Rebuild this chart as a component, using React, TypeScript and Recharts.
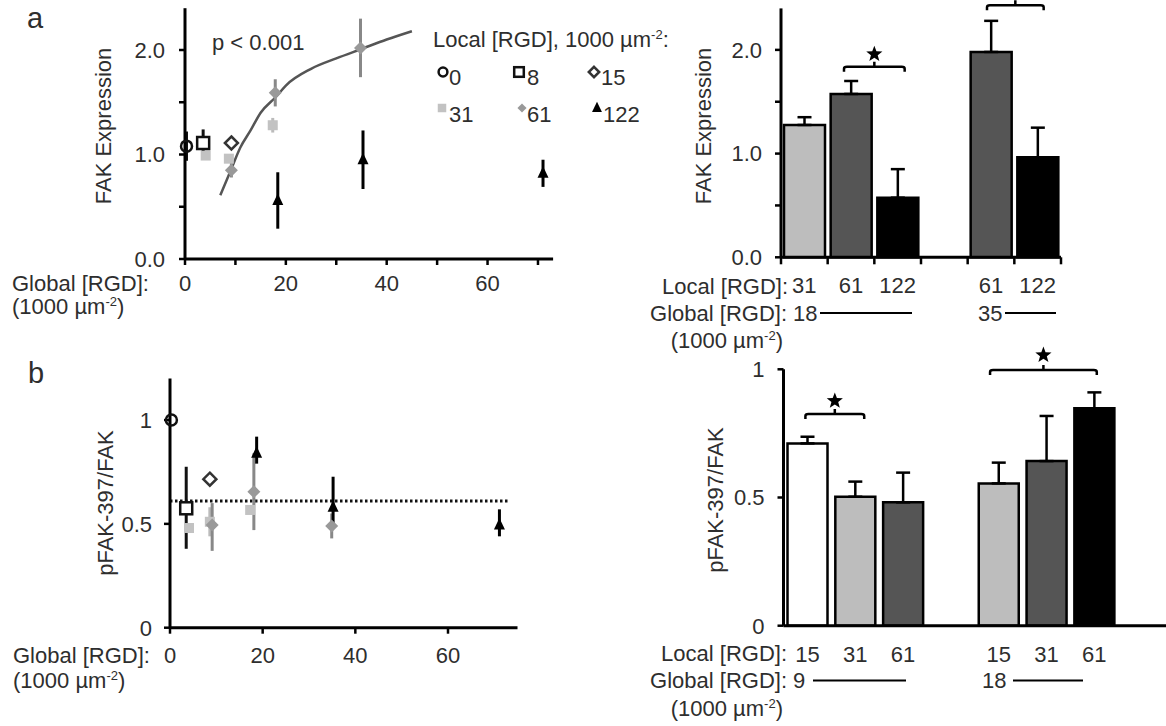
import React from 'react';
import {
  ComposedChart, BarChart, Bar, Cell, Scatter, Line, XAxis, YAxis, ErrorBar, ReferenceLine,
} from 'recharts';

const FONT = "'Liberation Sans', Arial, Helvetica, sans-serif";
const INK = '#2e2e2e';

// panel a (left): FAK expression vs global [RGD], one list per local [RGD]
const fakLocal0 = [{ g: 0.3, v: 1.08, e: 0.14 }];
const fakLocal8 = [{ g: 3.6, v: 1.11, e: 0.13 }];
const fakLocal15 = [{ g: 9.2, v: 1.11, e: 0.03 }];
const fakLocal31 = [{ g: 4.1, v: 0.99 }, { g: 8.7, v: 0.96 }, { g: 17.4, v: 1.28, e: 0.07 }];
const fakLocal61 = [{ g: 9.2, v: 0.85, e: 0.07 }, { g: 17.9, v: 1.59, e: 0.13 }, { g: 34.8, v: 2.02, e: 0.28 }];
const fakLocal122 = [{ g: 18.4, v: 0.56, e: 0.27 }, { g: 35.3, v: 0.95, e: 0.28 }, { g: 71, v: 0.82, e: 0.13 }];
const fakFit = [
  { g: 7, v: 0.61 }, { g: 9, v: 0.84 }, { g: 11, v: 1.07 }, { g: 13, v: 1.23 }, { g: 15, v: 1.4 },
  { g: 18, v: 1.55 }, { g: 20, v: 1.66 }, { g: 25, v: 1.82 }, { g: 30, v: 1.92 }, { g: 35, v: 2.01 },
  { g: 40, v: 2.1 }, { g: 45, v: 2.18 },
];

// panel b (left): pFAK-397/FAK vs global [RGD]
const pfakLocal0 = [{ g: 0.3, v: 1.0 }];
const pfakLocal8 = [{ g: 3.5, v: 0.575, e: [0.195, 0.2] }];
const pfakLocal15 = [{ g: 8.6, v: 0.715 }];
const pfakLocal31 = [{ g: 4.1, v: 0.48 }, { g: 8.6, v: 0.51, e: 0.07 }, { g: 17.3, v: 0.567 }];
const pfakLocal61 = [{ g: 9.1, v: 0.495, e: [0.125, 0.105] }, { g: 18.1, v: 0.655, e: 0.185 }, { g: 34.9, v: 0.49, e: 0.06 }];
const pfakLocal122 = [{ g: 18.7, v: 0.84, e: [0.05, 0.08] }, { g: 35.2, v: 0.58, e: [0.1, 0.147] }, { g: 71.1, v: 0.495, e: [0.055, 0.075] }];
const pfakMean = [{ g: 0, v: 0.61 }, { g: 73, v: 0.61 }];

// panel a (right): bars
const fakBarLocal = ['31', '61', '122', '', '61', '122'];
const fakBarMean = [1.276, 1.575, 0.575, null, 1.98, 0.965];
const fakBarSem = [0.075, 0.125, 0.275, null, 0.3, 0.285];
const fakBarFill = ['#bdbdbd', '#555555', '#000000', 'none', '#555555', '#000000'];
const fakBrackets = [{ from: 'c1', to: 'c2', y: 1.838 }, { from: 'c4', to: 'c5', y: 2.43 }];

// panel b (right): bars
const pfakBarLocal = ['15', '31', '61', '', '15', '31', '61', ''];
const pfakBarMean = [0.711, 0.503, 0.481, null, 0.555, 0.642, 0.848, null];
const pfakBarSem = [0.026, 0.059, 0.116, null, 0.081, 0.176, 0.062, null];
const pfakBarFill = ['#ffffff', '#bdbdbd', '#555555', 'none', '#bdbdbd', '#555555', '#000000', 'none'];
const pfakBrackets = [{ from: 'c0', to: 'c1', y: 0.826 }, { from: 'c4', to: 'c6', y: 0.997 }];

const toBars = (local: string[], mean: (number | null)[], sem: (number | null)[]) =>
  local.map((l, i) => ({ id: `c${i}`, local: l, mean: mean[i], err: sem[i] == null ? null : [0, sem[i]] }));

const fakBarData = toBars(fakBarLocal, fakBarMean, fakBarSem);
const pfakBarData = toBars(pfakBarLocal, pfakBarMean, pfakBarSem);

const axisLine = { stroke: '#000', strokeWidth: 3 };
const tickLine = { stroke: '#000', strokeWidth: 2.5 };
const tickStyle = { fill: INK, fontSize: 22, fontFamily: FONT };

// markers
const HollowCircle = ({ cx, cy, s = 1 }: any) => (
  <circle cx={cx} cy={cy} r={5.5 * s} fill="none" stroke="#111" strokeWidth={2.5} />
);
const HollowSquare = ({ cx, cy, s = 1 }: any) => (
  <rect x={cx - 6 * s} y={cy - 6 * s} width={12 * s} height={12 * s} fill="#fff" stroke="#111" strokeWidth={2.5} />
);
const HollowDiamond = ({ cx, cy, s = 1 }: any) => {
  const r = 6.5 * s;
  return <polygon points={`${cx},${cy - r} ${cx + r},${cy} ${cx},${cy + r} ${cx - r},${cy}`} fill="#fff" stroke="#333" strokeWidth={2.5} />;
};
const GraySquare = ({ cx, cy, s = 1 }: any) => (
  <rect x={cx - 5 * s} y={cy - 5 * s} width={10 * s} height={10 * s} fill="#c2c2c2" />
);
const GrayDiamond = ({ cx, cy, s = 1 }: any) => {
  const r = 6.5 * s;
  return <polygon points={`${cx},${cy - r} ${cx + r},${cy} ${cx},${cy + r} ${cx - r},${cy}`} fill="#999" />;
};
const BlackTriangle = ({ cx, cy, s = 1 }: any) => (
  <polygon points={`${cx},${cy - 7 * s} ${cx + 5.5 * s},${cy + 4.5 * s} ${cx - 5.5 * s},${cy + 4.5 * s}`} fill="#000" />
);

const Star = ({ cx, cy, r }: any) => {
  const pts: string[] = [];
  for (let i = 0; i < 10; i++) {
    const a = -Math.PI / 2 + (i * Math.PI) / 5;
    const rr = i % 2 === 0 ? r : r * 0.42;
    pts.push(`${cx + rr * Math.cos(a)},${cy + rr * Math.sin(a)}`);
  }
  return <polygon points={pts.join(' ')} fill="#000" />;
};

const bracketShape = (padL: number, padR: number, gap: number) => (props: any) => {
  const { x1, x2, y1 } = props;
  const a = x1 - padL;
  const b = x2 + padR;
  const y = y1;
  const m = (a + b) / 2;
  return (
    <g>
      <path
        d={`M${a},${y + 5} L${a},${y + 2} Q${a},${y} ${a + 3},${y} L${b - 3},${y} Q${b},${y} ${b},${y + 2} L${b},${y + 5} M${m},${y} L${m},${y - 5}`}
        fill="none" stroke="#000" strokeWidth={2.5}
      />
      <Star cx={m} cy={y - gap} r={8.5} />
    </g>
  );
};
const fakBracketPad = [[7, 7, 12.5], [4, 6, 13]];
const pfakBracketPad = [[2, 9, 13], [8.6, 2.5, 15]];

const BAND_A = 280 / 6;
const FakTick = (props: any) => {
  const { x, y, payload } = props;
  const i = fakBarData.findIndex((d) => d.id === payload.value);
  const left = x - BAND_A / 2;
  return (
    <g>
      <line x1={left} y1={y} x2={left} y2={y + 7} stroke="#000" strokeWidth={2.5} />
      {i === fakBarData.length - 1 && (
        <line x1={x + BAND_A / 2} y1={y} x2={x + BAND_A / 2} y2={y + 7} stroke="#000" strokeWidth={2.5} />
      )}
      <text x={x} y={y + 36} textAnchor="middle" fill={INK} fontSize={22} fontFamily={FONT}>
        {i >= 0 ? fakBarData[i].local : ''}
      </text>
    </g>
  );
};

const series = (data: any[], Shape: any, color: string) => (
  <Scatter data={data} dataKey="v" shape={(p: any) => <Shape cx={p.cx} cy={p.cy} />} isAnimationActive={false}>
    <ErrorBar dataKey="e" direction="y" width={0} stroke={color} strokeWidth={3} />
  </Scatter>
);

const Unit = ({ x, y, anchor = 'start' }: any) => (
  <text x={x} y={y} textAnchor={anchor}>
    (1000 µm<tspan dy={-8} fontSize={13}>-2</tspan><tspan dy={8}>)</tspan>
  </text>
);

const Overlay = () => (
  <svg width={1166} height={726} style={{ position: 'absolute', left: 0, top: 0, pointerEvents: 'none' }}
    fontFamily={FONT} fontSize={22} fill={INK}>
    <text x={27} y={28} fontSize={29}>a</text>
    <text x={28} y={383} fontSize={29}>b</text>
    <text x={212} y={50}>p &lt; 0.001</text>

    <text x={433} y={47}>
      Local [RGD], 1000 µm<tspan dy={-8} fontSize={13}>-2</tspan><tspan dy={8}>:</tspan>
    </text>
    <HollowCircle cx={443} cy={72} s={0.8} />
    <text x={449} y={85}>0</text>
    <HollowSquare cx={519} cy={72} s={0.8} />
    <text x={527} y={85}>8</text>
    <HollowDiamond cx={594} cy={72} s={0.8} />
    <text x={601} y={85}>15</text>
    <GraySquare cx={442} cy={108} s={0.85} />
    <text x={449} y={122}>31</text>
    <GrayDiamond cx={522} cy={108} s={0.7} />
    <text x={527} y={122}>61</text>
    <BlackTriangle cx={597} cy={108} s={0.9} />
    <text x={603} y={122}>122</text>

    <text x={12} y={291}>Global [RGD]:</text>
    <Unit x={12} y={314} />
    <text transform="translate(103,126) rotate(-90)" textAnchor="middle" dy="0.35em">FAK Expression</text>

    <text x={788} y={294} textAnchor="end">Local [RGD]:</text>
    <text x={787} y={321} textAnchor="end">Global [RGD]:</text>
    <Unit x={783} y={348} anchor="end" />
    <text x={793} y={321}>18</text>
    <line x1={820} y1={313} x2={912} y2={313} stroke="#000" strokeWidth={2} />
    <text x={978} y={321}>35</text>
    <line x1={1005} y1={313} x2={1056} y2={313} stroke="#000" strokeWidth={2} />
    <text transform="translate(703,126) rotate(-90)" textAnchor="middle" dy="0.35em">FAK Expression</text>

    <text x={13} y={663}>Global [RGD]:</text>
    <Unit x={13} y={688} />
    <text transform="translate(105,503) rotate(-90)" textAnchor="middle" dy="0.35em">pFAK-397/FAK</text>

    <text x={787} y={661} textAnchor="end">Local [RGD]:</text>
    <text x={787} y={688} textAnchor="end">Global [RGD]:</text>
    <Unit x={783} y={716} anchor="end" />
    <text x={793} y={688}>9</text>
    <line x1={813} y1={680.5} x2={906} y2={680.5} stroke="#000" strokeWidth={2} />
    <text x={982} y={688}>18</text>
    <line x1={1013} y1={680.5} x2={1083} y2={680.5} stroke="#000" strokeWidth={2} />
    <text transform="translate(715,500) rotate(-90)" textAnchor="middle" dy="0.35em">pFAK-397/FAK</text>
  </svg>
);

const App: React.FC = () => (
  <div style={{ position: 'absolute', left: 0, top: 0, width: 1166, height: 726, overflow: 'hidden', background: '#fff', fontFamily: FONT }}>
    <div style={{ position: 'absolute', left: 0, top: 0 }}>
      <ComposedChart width={600} height={330} margin={{ top: 8.2, right: 46.9, bottom: 31, left: 125 }}>
        <XAxis type="number" dataKey="g" domain={[0, 73]} ticks={[0, 10, 20, 30, 40, 50, 60, 70]} interval={0}
          tickFormatter={(v) => (v % 20 === 0 ? String(v) : '')} height={40} tickSize={6} tickMargin={10}
          axisLine={axisLine} tickLine={tickLine} tick={tickStyle} />
        <YAxis type="number" domain={[0, 2.4]} ticks={[0, 0.5, 1, 1.5, 2]} interval={0}
          tickFormatter={(v) => (Number.isInteger(v) ? v.toFixed(1) : '')} width={60} tickSize={6} tickMargin={14}
          axisLine={axisLine} tickLine={tickLine} tick={tickStyle} />
        <Line data={fakFit} dataKey="v" type="monotone" stroke="#555" strokeWidth={2.5} dot={false} isAnimationActive={false} />
        {series(fakLocal31, GraySquare, '#bbb')}
        {series(fakLocal61, GrayDiamond, '#888')}
        {series(fakLocal15, HollowDiamond, '#111')}
        {series(fakLocal8, HollowSquare, '#111')}
        {series(fakLocal0, HollowCircle, '#111')}
        {series(fakLocal122, BlackTriangle, '#000')}
      </ComposedChart>
    </div>

    <div style={{ position: 'absolute', left: 0, top: 330 }}>
      <ComposedChart width={600} height={396} margin={{ top: 48.5, right: 82.5, bottom: 58.3, left: 110 }}>
        <XAxis type="number" dataKey="g" domain={[0, 75]} ticks={[0, 20, 40, 60]} interval={0}
          height={40} tickSize={6} tickMargin={14} axisLine={axisLine} tickLine={tickLine} tick={tickStyle} />
        <YAxis type="number" domain={[0, 1.2]} ticks={[0, 0.5, 1]} interval={0} tickFormatter={(v) => String(v)}
          width={60} tickSize={6} tickMargin={12} axisLine={axisLine} tickLine={tickLine} tick={tickStyle} />
        <Line data={pfakMean} dataKey="v" stroke="#111" strokeWidth={3} strokeDasharray="2.5 2.5" dot={false} isAnimationActive={false} />
        {series(pfakLocal31, GraySquare, '#bbb')}
        {series(pfakLocal61, GrayDiamond, '#888')}
        {series(pfakLocal15, HollowDiamond, '#111')}
        {series(pfakLocal8, HollowSquare, '#111')}
        {series(pfakLocal0, HollowCircle, '#111')}
        {series(pfakLocal122, BlackTriangle, '#000')}
      </ComposedChart>
    </div>

    <div style={{ position: 'absolute', left: 680, top: 0 }}>
      <BarChart width={420} height={330} data={fakBarData} barCategoryGap={3}
        margin={{ top: 8.4, right: 39, bottom: 32.7, left: 41 }}>
        <XAxis dataKey="id" height={40} tickSize={0} tickMargin={0} tickLine={false} axisLine={axisLine}
          interval={0} tick={(p: any) => <FakTick {...p} />} />
        <YAxis type="number" domain={[0, 2.4]} ticks={[0, 0.5, 1, 1.5, 2]} interval={0}
          tickFormatter={(v) => (Number.isInteger(v) ? v.toFixed(1) : '')} width={60} tickSize={6} tickMargin={13}
          axisLine={axisLine} tickLine={tickLine} tick={tickStyle} />
        <Bar dataKey="mean" stroke="#000" strokeWidth={2.5} isAnimationActive={false}>
          {fakBarData.map((d, i) => <Cell key={d.id} fill={fakBarFill[i]} />)}
          <ErrorBar dataKey="err" direction="y" width={7} stroke="#000" strokeWidth={2.5} />
        </Bar>
        {fakBrackets.map((b, i) => (
          <ReferenceLine key={`fb${i}`} segment={[{ x: b.from, y: b.y }, { x: b.to, y: b.y }]} ifOverflow="visible"
            shape={bracketShape(fakBracketPad[i][0], fakBracketPad[i][1], fakBracketPad[i][2])} />
        ))}
      </BarChart>
    </div>

    <div style={{ position: 'absolute', left: 680, top: 330 }}>
      <BarChart width={486} height={396} data={pfakBarData} barCategoryGap={4}
        margin={{ top: 39.3, right: 0, bottom: 60.3, left: 43.5 }}>
        <XAxis dataKey="id" height={40} tickSize={0} tickMargin={20.5} tickLine={false} axisLine={axisLine}
          interval={0} tickFormatter={(id) => pfakBarData.find((d) => d.id === id)?.local ?? ''} tick={tickStyle} />
        <YAxis type="number" domain={[0, 1]} ticks={[0, 0.5, 1]} interval={0} tickFormatter={(v) => String(v)}
          width={60} tickSize={6} tickMargin={13} axisLine={axisLine} tickLine={tickLine} tick={tickStyle} />
        <Bar dataKey="mean" stroke="#000" strokeWidth={2.5} isAnimationActive={false}>
          {pfakBarData.map((d, i) => <Cell key={d.id} fill={pfakBarFill[i]} />)}
          <ErrorBar dataKey="err" direction="y" width={7} stroke="#000" strokeWidth={2.5} />
        </Bar>
        {pfakBrackets.map((b, i) => (
          <ReferenceLine key={`pb${i}`} segment={[{ x: b.from, y: b.y }, { x: b.to, y: b.y }]} ifOverflow="visible"
            shape={bracketShape(pfakBracketPad[i][0], pfakBracketPad[i][1], pfakBracketPad[i][2])} />
        ))}
      </BarChart>
    </div>

    <Overlay />
  </div>
);

export default App;
